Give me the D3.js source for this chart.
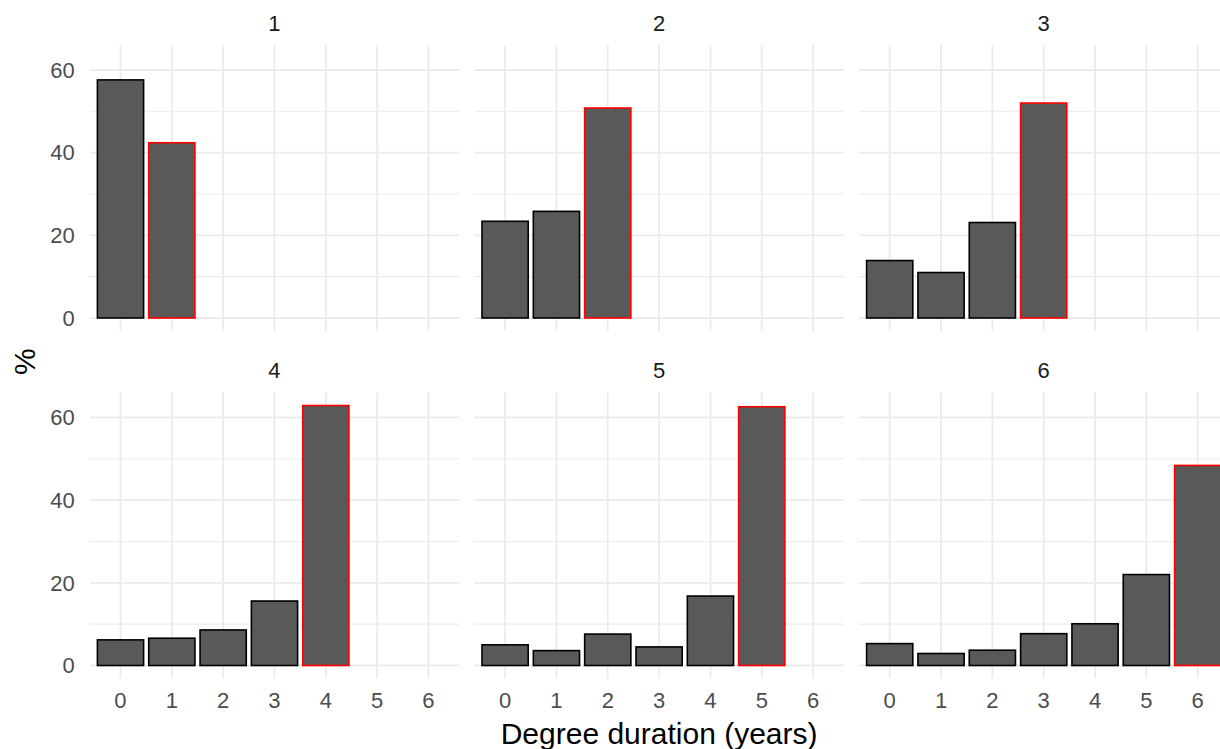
<!DOCTYPE html>
<html>
<head>
<meta charset="utf-8">
<script src="https://cdn.jsdelivr.net/npm/d3@7"></script>
<style>
  body { margin: 0; background: #fff; }
  svg { display: block; font-family: "Liberation Sans", Arial, sans-serif; }
</style>
</head>
<body>
<script>
// facets = degree length, bars = years actually taken
const facets = [1, 2, 3, 4, 5, 6];
const durations = [0, 1, 2, 3, 4, 5, 6];

const pct1 = [57.6, 42.4];
const pct2 = [23.4, 25.8, 50.8];
const pct3 = [13.9, 11.0, 23.1, 52.0];
const pct4 = [6.2, 6.6, 8.6, 15.6, 62.9];
const pct5 = [5.0, 3.6, 7.6, 4.5, 16.8, 62.6];
const pct6 = [5.3, 2.9, 3.7, 7.7, 10.1, 22.0, 48.4];

const yTicks = [0, 20, 40, 60];
const yMinor = [10, 30, 50];

const allPct = [pct1, pct2, pct3, pct4, pct5, pct6];

const W = 1220, H = 749;
const panelW = 369.6, panelH = 286, gapX = 15;
const left0 = 89.7;
const rowTops = [45, 392.5];

const svg = d3.select("body").append("svg").attr("width", W).attr("height", H);

const x = d3.scaleBand().domain(durations).range([0, panelW])
  .paddingInner(0.1).paddingOuter(0.15);

const ymax = d3.max(allPct, d => d3.max(d));
const y = d3.scaleLinear().domain([-ymax * 0.05, ymax * 1.05]).range([panelH, 0]);

facets.forEach((f, i) => {
  const col = i % 3, row = Math.floor(i / 3);
  const px = left0 + col * (panelW + gapX);
  const py = rowTops[row];
  const g = svg.append("g").attr("transform", "translate(" + px + "," + py + ")");

  // grid
  g.selectAll("line.minor").data(yMinor).enter().append("line")
    .attr("x1", 0).attr("x2", panelW)
    .attr("y1", d => y(d)).attr("y2", d => y(d))
    .style("stroke", "#ebebeb").style("stroke-width", "1.1px");
  g.selectAll("line.majorY").data(yTicks).enter().append("line")
    .attr("x1", 0).attr("x2", panelW)
    .attr("y1", d => y(d)).attr("y2", d => y(d))
    .style("stroke", "#ebebeb").style("stroke-width", "1.8px");
  g.selectAll("line.majorX").data(durations).enter().append("line")
    .attr("x1", d => x(d) + x.bandwidth() / 2).attr("x2", d => x(d) + x.bandwidth() / 2)
    .attr("y1", 0).attr("y2", panelH)
    .style("stroke", "#ebebeb").style("stroke-width", "1.8px");

  // bars, the one at duration = facet outlined red
  const data = allPct[i].map((v, k) => ({ dur: durations[k], pct: v }));
  g.selectAll("rect").data(data).enter().append("rect")
    .attr("x", d => x(d.dur))
    .attr("width", x.bandwidth())
    .attr("y", d => y(d.pct))
    .attr("height", d => y(0) - y(d.pct))
    .style("fill", "#595959")
    .style("stroke", d => d.dur === f ? "#ff0000" : "#000")
    .style("stroke-width", "1.6px");

  // strip
  g.append("text").attr("x", panelW / 2).attr("y", -22).attr("dy", "0.35em")
    .attr("text-anchor", "middle").style("font-size", "22px").style("fill", "#1a1a1a")
    .text(f);

  if (col === 0) {
    g.selectAll("text.ytick").data(yTicks).enter().append("text")
      .attr("x", -15).attr("y", d => y(d)).attr("dy", "0.35em")
      .attr("text-anchor", "end").style("font-size", "22px").style("fill", "#4d4d4d")
      .text(d => d);
  }
  if (row === 1) {
    g.selectAll("text.xtick").data(durations).enter().append("text")
      .attr("x", d => x(d) + x.bandwidth() / 2).attr("y", panelH + 22).attr("dy", "0.35em")
      .attr("text-anchor", "middle").style("font-size", "22px").style("fill", "#4d4d4d")
      .text(d => d);
  }
});

// axis titles
const plotMid = left0 + (3 * panelW + 2 * gapX) / 2;
svg.append("text").attr("x", plotMid).attr("y", 733).attr("dy", "0.35em")
  .attr("text-anchor", "middle").style("font-size", "30px").style("fill", "#000")
  .text("Degree duration (years)");

svg.append("text").attr("transform", "translate(24," + ((rowTops[0] + rowTops[1] + panelH) / 2) + ") rotate(-90)")
  .attr("dy", "0.35em").attr("text-anchor", "middle")
  .style("font-size", "30px").style("fill", "#000")
  .text("%");
</script>
</body>
</html>
